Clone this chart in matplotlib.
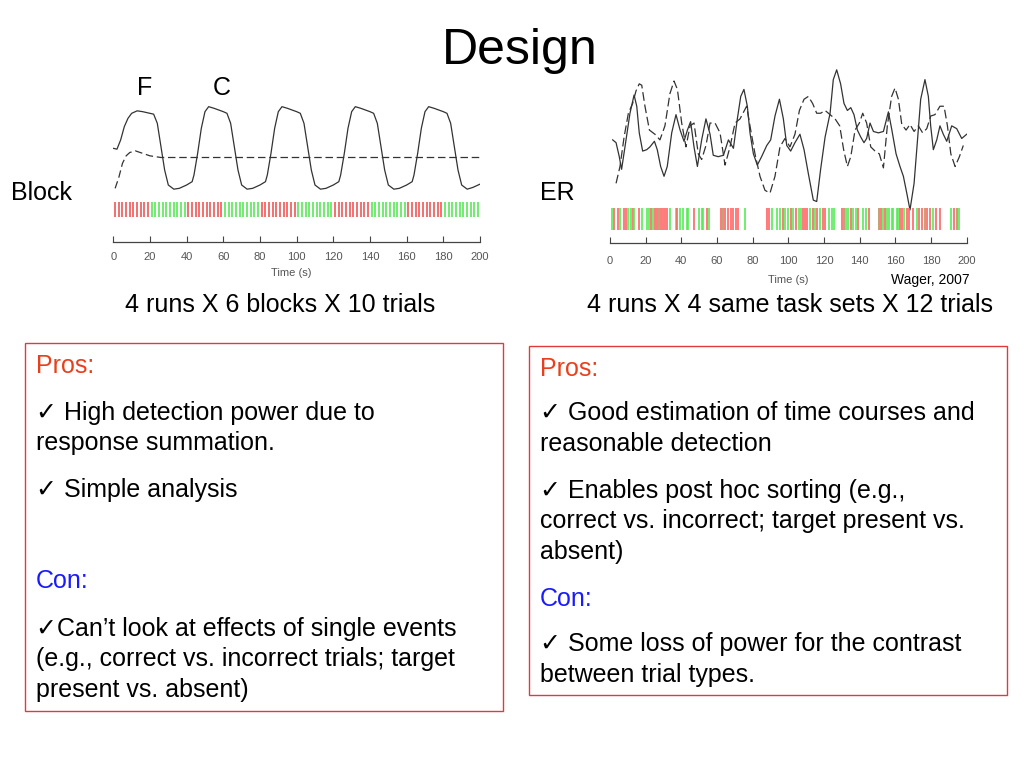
import matplotlib
matplotlib.use("Agg")
import matplotlib.pyplot as plt
from matplotlib.patches import Rectangle

plt.rcParams['font.family'] = ['Liberation Sans', 'DejaVu Sans']

# ---- block design: fitted response (solid) and baseline model (dashed)
block_t = [0, 2, 4, 6, 8, 10, 13, 16, 20, 22, 24, 26, 28, 30, 33, 36, 40, 43,
           44, 46, 48, 50, 52, 55, 60, 62, 64, 66, 68, 70, 73, 76, 80, 83,
           84, 86, 88, 90, 92, 95, 100, 102, 104, 106, 108, 110, 113, 116, 120, 123,
           124, 126, 128, 130, 132, 135, 140, 142, 144, 146, 148, 150, 153, 156, 160, 163,
           164, 166, 168, 170, 172, 175, 180, 182, 184, 186, 188, 190, 193, 196, 200]
block_v = [0.50, 0.49, 0.60, 0.76, 0.86, 0.92, 0.95, 0.94, 0.92, 0.91, 0.80, 0.52, 0.24, 0.06, 0.01, 0.02, 0.06, 0.10,
           0.18, 0.44, 0.74, 0.94, 1.00, 0.98, 0.94, 0.92, 0.80, 0.52, 0.24, 0.06, 0.01, 0.02, 0.06, 0.10,
           0.18, 0.44, 0.74, 0.94, 1.00, 0.98, 0.94, 0.92, 0.80, 0.52, 0.24, 0.06, 0.01, 0.02, 0.06, 0.10,
           0.18, 0.44, 0.74, 0.94, 1.00, 0.98, 0.94, 0.92, 0.80, 0.52, 0.24, 0.06, 0.01, 0.02, 0.06, 0.10,
           0.18, 0.44, 0.74, 0.94, 1.00, 0.98, 0.94, 0.92, 0.80, 0.52, 0.24, 0.06, 0.01, 0.03, 0.07]
block_dash_t = [1, 3, 5, 7, 9, 12, 16, 20, 26, 200]
block_dash_v = [0.02, 0.15, 0.32, 0.41, 0.45, 0.47, 0.44, 0.41, 0.39, 0.39]

# block onsets (s) and condition, 10 trials every 2 s in each block
block_onsets = [0, 20, 40, 60, 80, 100, 120, 140, 160, 180]
block_cond = ['F', 'C', 'F', 'C', 'F', 'C', 'F', 'C', 'F', 'C']
trials_per_block = 10
trial_gap = 2

# ---- event related design
er_t = [1.5, 3.4, 5.2, 6.5, 8.4, 11.2, 13.5, 15.0, 16.4, 18.3, 20.6, 22.4, 24.9, 26.5, 28.4, 30.3,
        32.1, 34.6, 37.0, 39.3, 41.5, 43.4, 45.2, 47.1, 49.0, 51.4, 53.8, 56.1, 57.9, 60.7, 63.6,
        66.4, 69.2, 71.4, 73.3, 75.1, 77.0, 78.5, 80.4, 82.6, 85.0, 87.9, 90.1, 92.5, 95.0, 97.2,
        99.1, 101.3, 103.7, 106.5, 108.8, 111.2, 114.0, 115.9, 118.1, 120.6, 123.4, 125.2, 127.1,
        129.3, 131.2, 133.1, 135.0, 136.8, 138.7, 140.6, 142.4, 143.9, 145.8, 147.7, 150.5, 153.3,
        156.1, 157.9, 160.4, 162.6, 164.5, 166.4, 168.2, 170.5, 172.3, 174.2, 176.6, 178.5, 179.8,
        181.3, 183.2, 185.0, 186.9, 188.8, 191.6, 194.4, 197.2, 200.0]
er_v = [0.50, 0.48, 0.38, 0.29, 0.45, 0.69, 0.82, 0.74, 0.55, 0.42, 0.43, 0.45, 0.49, 0.43, 0.31, 0.24,
        0.31, 0.55, 0.68, 0.57, 0.49, 0.57, 0.63, 0.45, 0.31, 0.50, 0.65, 0.54, 0.39, 0.38, 0.39,
        0.50, 0.44, 0.65, 0.81, 0.86, 0.74, 0.55, 0.40, 0.32, 0.38, 0.46, 0.50, 0.67, 0.79, 0.65,
        0.46, 0.42, 0.48, 0.54, 0.43, 0.26, 0.07, 0.06, 0.29, 0.52, 0.69, 0.93, 1.00,
        0.90, 0.76, 0.71, 0.73, 0.68, 0.57, 0.52, 0.48, 0.51, 0.62, 0.56, 0.55, 0.56,
        0.70, 0.58, 0.40, 0.31, 0.24, 0.12, 0.00, 0.19, 0.48, 0.79, 0.93, 0.81, 0.60,
        0.43, 0.50, 0.60, 0.54, 0.49, 0.60, 0.58, 0.51, 0.54]
er_dash_t = [3.4, 5.6, 7.9, 10.3, 12.7, 14.6, 16.4, 17.8, 19.6, 22.1, 25.2, 28.0, 30.8, 33.6, 35.9,
             37.8, 40.2, 42.6, 44.9, 47.1, 49.5, 51.4, 53.8, 56.1, 58.9, 61.7, 64.5, 67.3, 70.1,
             72.9, 76.6, 78.9, 81.3, 84.1, 86.9, 89.7, 92.5, 95.3, 98.1, 100.9, 103.7, 106.2, 108.8,
             111.2, 113.6, 115.9, 118.1, 120.6, 123.4, 126.2, 128.8, 131.0, 133.1, 135.0, 137.4,
             139.8, 141.7, 143.9, 146.2, 148.6, 151.0, 153.3, 155.5, 157.9, 159.8, 161.7, 163.6,
             166.0, 168.2, 170.5, 172.9, 175.3, 177.6, 179.8, 182.2, 185.0, 187.3, 189.2, 191.1,
             193.5, 195.9, 198.1]
er_dash_v = [0.19, 0.31, 0.52, 0.69, 0.76, 0.85, 0.90, 0.89, 0.74, 0.57, 0.54, 0.50, 0.60, 0.83, 0.92,
             0.86, 0.62, 0.45, 0.60, 0.62, 0.40, 0.36, 0.46, 0.62, 0.62, 0.55, 0.32, 0.45, 0.62,
             0.65, 0.74, 0.57, 0.40, 0.24, 0.14, 0.12, 0.24, 0.45, 0.51, 0.45, 0.54, 0.71, 0.79,
             0.81, 0.76, 0.69, 0.69, 0.71, 0.68, 0.65, 0.60, 0.43, 0.31, 0.38, 0.57,
             0.62, 0.69, 0.62, 0.45, 0.42, 0.40, 0.30, 0.60, 0.81, 0.87, 0.79, 0.61,
             0.57, 0.61, 0.56, 0.60, 0.55, 0.58, 0.67, 0.68, 0.74, 0.74, 0.60, 0.40,
             0.31, 0.38, 0.46]

# event onsets (s); r = red, g = green, b = overlapping (brownish)
er_onsets = [1.3, 2.2, 4.7, 5.6, 7.9, 9.0, 10.3, 11.6, 12.7, 13.6, 16.4, 17.9, 20.6, 21.9, 22.8,
             24.3, 25.2, 26.5, 27.7, 28.6, 29.9, 31.0, 32.1, 33.6, 37.0, 37.8, 39.3, 40.7, 43.0,
             43.7, 47.3, 49.9, 51.4, 52.3, 54.2, 55.7, 62.2, 63.2, 64.5, 66.4, 67.9, 69.2, 70.5,
             71.6, 75.7, 87.9, 89.3, 90.7, 93.5, 95.3, 97.2, 98.3, 99.8, 101.7, 102.4, 104.3, 105.8,
             107.3, 108.4, 109.5, 110.7, 112.1, 114.0, 115.1, 115.9, 117.8, 119.6, 120.7, 122.6,
             124.3, 125.8, 129.9, 131.2, 132.3, 133.6, 135.0, 136.4, 137.9, 139.3, 142.1, 143.6,
             145.0, 151.0, 151.8, 152.9, 154.2, 155.1, 156.3, 157.9, 158.9, 160.7, 161.7, 162.6,
             163.6, 164.9, 166.4, 167.9, 169.7, 172.0, 173.5, 174.8, 176.6, 177.9, 179.4, 181.3,
             182.8, 185.0, 191.0, 192.9, 194.8, 195.9, 200.0]
er_cond = list("grrgrrggrgrgggrgrrbrrrrgg" "rgggg" "rgggrg" "rbrrrrrrg"
               "rrgggrggrgrggrrrgrgrgrrgg" "grbggrggrgg"
               "rbrgrggggggrrgrrrgrrbrrgr" "rgrbg")

clr = {'r': '#ff6464', 'g': '#55ec55', 'b': '#b8905a', 'F': '#f26464', 'C': '#66ea66'}
line_c = '#333333'
tick_c = '#555555'

fig = plt.figure(figsize=(10.24, 7.68), dpi=100)
W, H = 1024.0, 768.0


def px_axes(x0, x1, ytop, ybot):
    return fig.add_axes([x0 / W, 1 - ybot / H, (x1 - x0) / W, (ybot - ytop) / H])


def style_time_axis(ax):
    for s in ['top', 'right', 'left']:
        ax.spines[s].set_visible(False)
    ax.spines['bottom'].set_color('#444444')
    ax.spines['bottom'].set_linewidth(0.9)
    ax.set_xlim(0, 200)
    ax.set_xticks(range(0, 201, 20))
    ax.set_yticks([])
    ax.tick_params(axis='x', direction='in', length=4, width=0.8, color='#444444',
                   labelsize=8, labelcolor=tick_c, pad=7)
    ax.patch.set_alpha(0)


# ---- block chart
ax1 = px_axes(113.3, 480, 100, 242)
ax1.set_ylim(-0.624, 1.08)
ax1.plot(block_t, block_v, color=line_c, lw=0.9)
ax1.plot(block_dash_t, block_dash_v, color=line_c, lw=0.9, dashes=(6, 3))
for onset, cond in zip(block_onsets, block_cond):
    ts = [onset + 1 + k * trial_gap for k in range(trials_per_block)]
    ax1.vlines(ts, -0.324, -0.144, color=clr[cond], lw=1.3)
style_time_axis(ax1)

# ---- event related chart
ax2 = px_axes(610, 966.7, 60, 243)
ax2.set_ylim(-0.236, 1.07)
ax2.plot(er_t, er_v, color=line_c, lw=0.9)
ax2.plot(er_dash_t, er_dash_v, color=line_c, lw=0.9, dashes=(7, 3))
for t, c in zip(er_onsets, er_cond):
    ax2.vlines(t, -0.143, 0.012, color=clr[c], lw=1.2)
style_time_axis(ax2)
ax2.tick_params(axis='x', pad=9)


def txt(x, y, s, **kw):
    kw.setdefault('va', 'baseline')
    kw.setdefault('fontsize', 18)
    fig.text(x / W, 1 - y / H, s, **kw)


txt(520, 64, 'Design', fontsize=36, ha='center')
txt(137, 95, 'F')
txt(213, 95, 'C')
txt(11, 200, 'Block')
txt(540, 200, 'ER')
txt(291, 276, 'Time (s)', fontsize=8, color=tick_c, ha='center')
txt(788, 283, 'Time (s)', fontsize=8, color=tick_c, ha='center')
txt(970, 284, 'Wager, 2007', fontsize=10, ha='right')
txt(280, 312, '4 runs X 6 blocks X 10 trials', ha='center')
txt(790, 312, '4 runs X 4 same task sets X 12 trials', ha='center')

# ---- pros / cons boxes
box_c = '#e03a3a'
fig.patches.append(Rectangle((25 / W, 1 - 711 / H), 478 / W, 368 / H, transform=fig.transFigure,
                             fill=False, edgecolor=box_c, lw=1))
fig.patches.append(Rectangle((529 / W, 1 - 695 / H), 478 / W, 349 / H, transform=fig.transFigure,
                             fill=False, edgecolor=box_c, lw=1))

pro_c = '#e8401c'
con_c = '#1a1aff'
left_lines = [(373, 'Pros:', pro_c),
              (420, '\u2713 High detection power due to', 'black'),
              (450, 'response summation.', 'black'),
              (497, '\u2713 Simple analysis', 'black'),
              (588, 'Con:', con_c),
              (636, '\u2713Can\u2019t look at effects of single events', 'black'),
              (666, '(e.g., correct vs. incorrect trials; target', 'black'),
              (697, 'present vs. absent)', 'black')]
right_lines = [(376, 'Pros:', pro_c),
               (420, '\u2713 Good estimation of time courses and', 'black'),
               (451, 'reasonable detection', 'black'),
               (498, '\u2713 Enables post hoc sorting (e.g.,', 'black'),
               (528, 'correct vs. incorrect; target present vs.', 'black'),
               (559, 'absent)', 'black'),
               (606, 'Con:', con_c),
               (651, '\u2713 Some loss of power for the contrast', 'black'),
               (682, 'between trial types.', 'black')]
for y, s, c in left_lines:
    txt(36, y, s, color=c)
for y, s, c in right_lines:
    txt(540, y, s, color=c)

fig.savefig('out.png', dpi=100)
